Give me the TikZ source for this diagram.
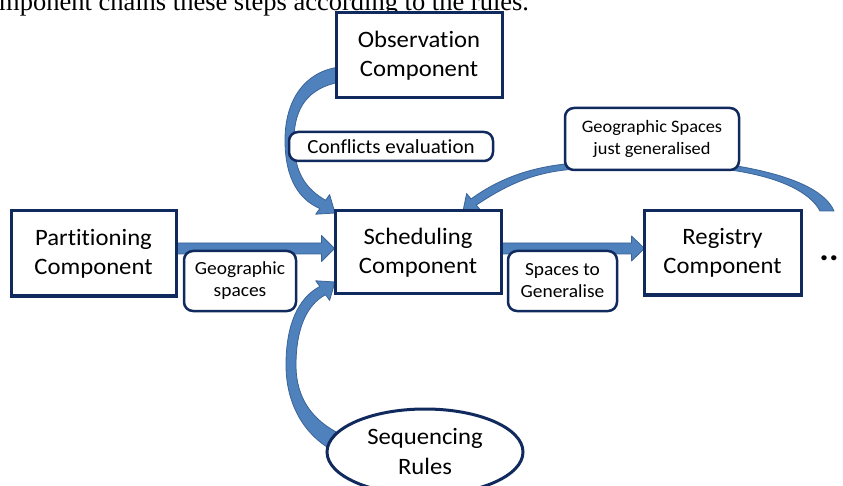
\documentclass[tikz,border=0pt]{standalone}
\usepackage{fontspec}
\setmainfont{Carlito}[FakeStretch=1.05, Ligatures=NoCommon]
\newfontfamily\timesfont{Liberation Serif}
\usetikzlibrary{shapes.geometric,calc}
\pgfdeclarelayer{bg}
\pgfsetlayers{bg,main}
\definecolor{navy}{HTML}{112A5E}
\definecolor{arrfill}{HTML}{4F81BD}
\definecolor{arredge}{HTML}{3A6397}
\tikzset{
  compbox/.style={draw=navy, line width=3pt, fill=white, inner sep=0pt, align=center,
    font=\fontsize{23.5}{29}\selectfont},
  labelbox/.style={draw=navy, line width=2.5pt, fill=white, rounded corners=9pt,
    inner sep=0pt, align=center},
  blockarrow/.style={fill=arrfill, draw=arredge, line width=0.8pt, line join=round},
}
\begin{document}
\begin{tikzpicture}[x=1pt,y=-1pt]
\useasboundingbox (0,0) rectangle (843,486);

\node[font=\timesfont\fontsize{26.5}{30}\selectfont, anchor=base west, inner sep=0pt]
  (caption) at (-1,11) {mponent chains these steps according to the rules.};

\node[compbox, minimum width=166pt, minimum height=85pt] (obs) at (419,55.5) {Observation\\Component};
\node[compbox, minimum width=166pt, minimum height=83pt] (sched) at (418,252.5) {Scheduling\\Component};
\node[compbox, minimum width=165pt, minimum height=85pt] (part) at (93.5,253.5) {Partitioning\\Component};
\node[compbox, minimum width=157pt, minimum height=84pt] (reg) at (722.5,253) {Registry\\Component};

\node[labelbox, minimum width=204pt, minimum height=29pt, font=\fontsize{20}{24}\selectfont]
  (conf) at (391,146.5) {Conflicts evaluation};
\node[labelbox, minimum width=174pt, minimum height=62pt, font=\fontsize{17.5}{22}\selectfont]
  (gsjg) at (652,139) {Geographic Spaces\\just generalised};
\node[labelbox, minimum width=112pt, minimum height=60pt, font=\fontsize{18.5}{22}\selectfont]
  (gs) at (240,281) {Geographic\\spaces};
\node[labelbox, minimum width=109pt, minimum height=60pt, font=\fontsize{18.5}{22}\selectfont]
  (stg) at (562.5,281) {Spaces to\\Generalise};

\node[draw=navy, line width=3pt, fill=white, ellipse, inner sep=0pt, minimum width=196pt,
  minimum height=86pt, align=center, font=\fontsize{23.5}{30}\selectfont]
  (seq) at (425,452) {Sequencing\\Rules};

\node[font=\bfseries\fontsize{34}{36}\selectfont, anchor=base, inner sep=0pt] (dots) at (829,261) {..};

\begin{pgfonlayer}{bg}
% Partitioning -> Scheduling
\draw[blockarrow] ($(part.east)+(-3,-10.5)$) -- ($(sched.west)+(-12,-9.5)$)
  -- ($(sched.west)+(-12,-17)$) -- ($(sched.west)+(1,-4)$) -- ($(sched.west)+(-12,9)$)
  -- ($(sched.west)+(-12,1.5)$) -- ($(part.east)+(-3,0.5)$) -- cycle;
% Scheduling -> Registry
\draw[blockarrow] ($(sched.east)+(-3,-9.5)$) -- ($(reg.west)+(-11,-10)$)
  -- ($(reg.west)+(-11,-17)$) -- ($(reg.west)+(2,-4.5)$) -- ($(reg.west)+(-11,8)$)
  -- ($(reg.west)+(-11,1)$) -- ($(sched.east)+(-3,1.5)$) -- cycle;
% Observation -> Scheduling
\draw[blockarrow] (335,213) -- (315.8,214.2) -- (319.8,208.5)
  .. controls (300,200) and (285,180) .. (285,140)
  .. controls (285,100) and (305,71) .. (340,67) -- (340,82)
  .. controls (308,88) and (294,108) .. (294,140)
  .. controls (294,175) and (308,190) .. (325.6,200.3) -- (329.6,194.6) -- cycle;
% Sequencing Rules -> Scheduling
\draw[blockarrow] (335,282) -- (315.8,280.8) -- (319.8,286.5)
  .. controls (298,298) and (286,325) .. (286,365)
  .. controls (286,405) and (305,435) .. (332,450) -- (340,434)
  .. controls (314,421) and (296,400) .. (296,365)
  .. controls (296,330) and (306,305) .. (325.6,294.7) -- (329.6,300.4) -- cycle;
% Registry side -> Scheduling (geographic spaces just generalised)
\draw[blockarrow] (463,211) -- (466.6,193.6) -- (471.1,198.9)
  .. controls (500,178) and (530,168) .. (565,164)
  .. controls (620,158) and (690,158) .. (737,166)
  .. controls (790,175) and (825,190) .. (834,211) -- (820,211)
  .. controls (810,192) and (780,178) .. (737,171)
  .. controls (690,164) and (620,164) .. (565,170)
  .. controls (530,174) and (505,186) .. (476.3,205.1) -- (480.8,210.4) -- cycle;
\end{pgfonlayer}
\end{tikzpicture}
\end{document}
